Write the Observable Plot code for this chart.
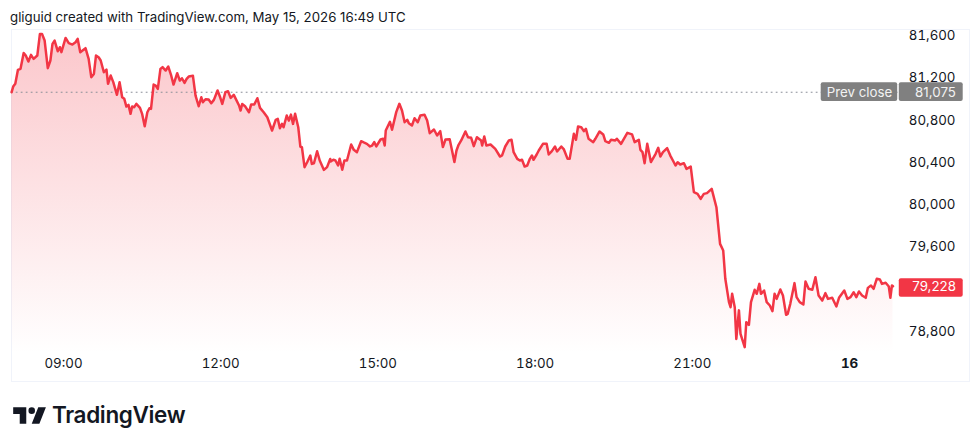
<!DOCTYPE html>
<html><head><meta charset="utf-8">
<script src="https://cdn.jsdelivr.net/npm/d3@7"></script>
<script src="https://cdn.jsdelivr.net/npm/@observablehq/plot@0.6"></script>
<style>
html,body{margin:0;padding:0;background:#fff;width:980px;height:448px;overflow:hidden}
#title{height:28px;box-sizing:border-box;padding:9px 0 0 10px;font:13.25px/16px Inter,sans-serif;color:#131722;white-space:nowrap}
#chart svg{display:block}
#logo{display:flex;align-items:center;height:40px;padding:13px 0 0 11px;color:#131722;font:600 22.5px/26px Inter,sans-serif;letter-spacing:-.35px}
#logo svg{margin-right:5px}
</style></head><body>
<div id="title">gliguid created with TradingView.com, May 15, 2026 16:49 UTC</div>
<div id="chart"></div>
<div id="logo"><svg width="36" height="24" viewBox="0 2 33 22"><path fill="#131722" d="M14 6H2v6h6v9h6V6zm12 15h-7l6-15h7l-6 15zm-7-9a3 3 0 1 0 0-6 3 3 0 0 0 0 6z"/></svg>TradingView</div>
<script>
const hours = [8.01,8.04,8.08,8.13,8.18,8.24,8.28,8.33,8.38,8.43,8.50,8.55,8.59,8.64,8.70,8.75,8.79,8.83,8.89,8.93,8.96,9.04,9.10,9.17,9.23,9.27,9.32,9.42,9.48,9.53,9.58,9.62,9.67,9.71,9.77,9.82,9.85,9.90,9.95,10.02,10.07,10.12,10.16,10.20,10.24,10.28,10.31,10.35,10.39,10.46,10.50,10.55,10.60,10.64,10.67,10.72,10.76,10.80,10.85,10.89,10.95,11.00,11.05,11.10,11.17,11.22,11.26,11.31,11.35,11.39,11.47,11.52,11.58,11.63,11.66,11.71,11.77,11.82,11.87,11.94,11.99,12.03,12.09,12.14,12.19,12.25,12.35,12.38,12.41,12.47,12.54,12.58,12.64,12.70,12.75,12.82,12.89,12.98,13.05,13.09,13.13,13.17,13.20,13.26,13.30,13.34,13.38,13.42,13.48,13.52,13.55,13.60,13.65,13.71,13.74,13.78,13.84,13.89,13.97,14.03,14.09,
14.10,14.15,14.19,14.24,14.27,14.32,14.36,14.41,14.49,14.54,14.60,14.68,14.73,14.79,14.85,14.89,14.93,14.97,15.05,15.10,15.13,15.15,15.23,15.27,15.35,15.41,15.46,15.51,15.56,15.59,15.65,15.70,15.76,15.81,15.89,15.94,15.99,16.07,16.13,16.19,16.24,16.29,16.37,16.46,16.50,16.54,16.59,16.67,16.72,16.78,16.83,16.89,16.97,16.99,17.03,17.07,17.15,17.24,17.33,17.37,17.43,17.50,17.55,17.59,17.66,17.71,17.75,17.80,17.85,17.90,17.94,17.97,18.03,18.07,18.15,18.22,18.26,18.32,18.38,18.42,18.50,18.55,18.62,18.66,18.74,18.78,18.82,18.88,18.93,18.97,19.02,19.11,19.15,19.23,19.30,19.34,19.41,19.45,19.53,19.56,19.64,19.76,19.85,19.90,19.98,20.01,20.05,20.09,20.14,20.21,20.30,20.35,20.39,
20.44,20.52,20.58,20.63,20.68,20.72,20.77,20.84,20.89,20.97,21.03,21.10,21.16,21.22,21.28,21.37,
21.46,21.53,21.59,21.63,21.70,21.73,21.76,21.81,21.84,21.89,21.92,22.00,22.03,22.08,22.12,22.19,22.23,22.28,22.31,22.37,22.42,22.48,22.53,22.57,22.61,22.68,22.73,22.79,22.82,22.87,22.95,22.99,23.05,23.12,23.16,23.22,23.29,23.35,23.41,23.48,23.54,23.59,23.67,23.75,23.80,23.90,23.96,24.02,24.08,24.13,24.18,24.24,24.31,24.35,24.41,24.46,24.52,24.58,24.62,24.69,24.75,24.78,24.81,24.83];
const prices = [81066,81119,81145,81277,81287,81438,81413,81356,81419,81382,81413,81618,81618,81555,81293,81366,81524,81555,81454,81492,81445,81580,81530,81517,81539,81571,81445,81483,81382,81208,81239,81413,81397,81366,81255,81280,81145,81224,81161,81041,81161,81018,81003,80930,80946,80861,80930,80924,80955,80917,80861,80744,80876,80914,80908,81138,81129,81097,81287,81303,81271,81309,81233,81138,81246,81176,81198,81154,81192,81214,81221,81034,80933,81018,80971,80999,80996,80962,80993,81082,81018,80955,81066,81075,81012,81041,80940,80892,80955,80930,80876,80949,80949,81009,80917,80876,80829,80703,80804,80813,80725,80766,80734,80845,80797,80854,80766,80861,80734,80551,80545,80356,80403,80466,80387,80393,80507,80419,80330,80356,80434,
80410,80426,80419,80372,80435,80331,80419,80419,80571,80520,80498,80602,80590,80577,80552,80561,80593,80552,80618,80625,80561,80703,80786,80710,80877,80956,80893,80782,80804,80773,80751,80820,80782,80845,80852,80798,80678,80713,80656,80697,80546,80618,80621,80404,80514,80568,80609,80694,80640,80634,80555,80640,80609,80561,80647,80561,80571,80530,80457,80467,80552,80609,80615,80498,80435,80419,80426,80362,80372,80435,80467,80426,80476,80514,80577,80577,80476,80508,80552,80505,80552,80524,80435,80435,80672,80615,80741,80735,80697,80719,80625,80593,80625,80694,80666,80602,80587,80615,80609,80625,80577,80681,80666,80593,80615,80520,80498,80394,80577,80404,80482,80539,80457,
80498,80536,80466,80419,80372,80403,80381,80394,80340,80362,80119,80103,80056,80103,80110,80151,
79977,79630,79567,79299,79078,79030,79157,79030,78730,79000,78778,78652,78888,78863,79078,79195,79157,79251,79157,79188,79078,79046,78992,79157,79109,79198,79141,78958,78967,79062,79258,79125,79078,79056,79273,79204,79195,79314,79141,79093,79163,79109,79119,79037,79119,79188,79109,79125,79172,79125,79179,79141,79119,79213,79236,79204,79299,79292,79251,79261,79226,79119,79236,79228];
const priceTicks = [81600,81200,80800,80400,80000,79600,78800];
const timeTicks = [9,12,15,18,21];
const timeLabels = ["09:00","12:00","15:00","18:00","21:00"];
const dayTick = [24];
const dayLabel = "16";
const prevClose = 81075;
const lastPrice = 79228;

const rows = hours.map((h, i) => ({h, p: prices[i]}));
const font = "Inter, sans-serif";

const gradient = () => {
  const ns = "http://www.w3.org/2000/svg";
  const defs = document.createElementNS(ns, "defs");
  defs.innerHTML = `<linearGradient id="fade" x1="0" y1="0" x2="0" y2="1">
    <stop offset="0" stop-color="#f23645" stop-opacity=".28"/>
    <stop offset="1" stop-color="#f23645" stop-opacity="0"/></linearGradient>`;
  return defs;
};

const plot = Plot.plot({
  width: 980, height: 354,
  marginLeft: 11, marginRight: 11, marginTop: 1, marginBottom: 1,
  style: {background: "transparent", fontFamily: font, fontSize: "13.3px", color: "#131722"},
  x: {domain: [9, 24], range: [63, 849], axis: null},
  y: {domain: [78800, 81600], range: [303, 7.3], axis: null},
  marks: [
    gradient,
    Plot.frame({stroke: "#f0f3fa"}),
    Plot.areaY(rows, {x: "h", y1: 78590, y2: "p", fill: "url(#fade)"}),
    Plot.ruleY([prevClose], {x1: 8.01, x2: 26.1, dy: 1, stroke: "#8a8e97", strokeDasharray: "1 4", strokeLinecap: "round", strokeWidth: 1}),
    Plot.lineY(rows, {x: "h", y: "p", stroke: "#f23645", strokeWidth: 2.5, strokeLinejoin: "round"}),
    Plot.axisX(timeTicks, {anchor: "bottom", tickSize: 0, tickPadding: 0, dy: -23, fontSize: 13.3, tickFormat: (d, i) => timeLabels[i], label: null}),
    Plot.axisX(dayTick, {anchor: "bottom", tickSize: 0, tickPadding: 0, dy: -23, fontSize: 13.3, fontWeight: 700, tickFormat: () => dayLabel, label: null}),
    Plot.axisY(priceTicks, {anchor: "right", tickSize: 0, tickPadding: 0, dx: -14, textAnchor: "end", tickFormat: d3.format(","), label: null, fontSize: 13.3}),
    Plot.rect([prevClose], {x1: 23.46, x2: 24.92, y1: 80978, y2: 81155, fill: "#808080", rx: 2}),
    Plot.rect([prevClose], {x1: 24.95, x2: 26.17, y1: 80978, y2: 81155, fill: "#808080", rx: 2}),
    Plot.text(["Prev close"], {x: 24.19, y: prevClose, dy: 1, text: d => d, fill: "#f2f2f2", fontSize: 13.3}),
    Plot.text([prevClose], {x: 26.03, y: prevClose, dy: 1, text: d3.format(","), fill: "#f2f2f2", textAnchor: "end", fontSize: 13.3}),
    Plot.rect([lastPrice], {x1: 24.95, x2: 26.17, y1: 79124, y2: 79299, fill: "#f23645", rx: 2}),
    Plot.text([lastPrice], {x: 26.03, y: lastPrice, text: d3.format(","), fill: "#fff", textAnchor: "end", fontSize: 13.3})
  ]
});
document.getElementById("chart").append(plot);
</script>
</body></html>
